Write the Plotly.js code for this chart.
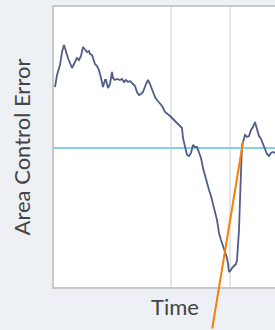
<!DOCTYPE html>
<html>
<head>
<meta charset="utf-8">
<script src="https://cdn.plot.ly/plotly-3.0.1.min.js"></script>
<style>
html,body{margin:0;padding:0;overflow:hidden;background:#edf1f5;}
#chart{width:310px;height:330px;}
</style>
</head>
<body>
<div id="chart"></div>
<script>
// Time steps (arbitrary units) and Area Control Error values
const timeSteps = [1,3,6,8,10,12,14,16,18,21,23,25,27,29,31,33,35,36,38,39,41,43,45,47,49,51,52,54,56,58,59,61,63,66,68,70,72,74,76,79,81,83,85,87,89,92,94,96,98,101,103,106,108,111,114,116,118,121,123,126,128,129,131,133,135,137,139,141,143,145,147,149,151,153,155,157,159,161,163,165,167,169,171,173,174,175,177,178,180,182,183,184,185,186,187,188,189,191,193,195,197,199,201,203,205,207,209,211,213,215,217,219,221,226,231,236,242];
const aceValues = [6.1,7.3,8.3,9.6,10.3,9.6,9.0,8.5,8.0,8.6,9.0,8.8,9.2,10.1,9.8,9.6,9.7,9.4,9.3,9.0,8.4,8.2,7.8,7.0,6.1,6.8,6.8,6.0,6.4,7.6,7.0,6.8,6.9,6.8,6.9,6.6,6.8,6.6,6.7,6.4,6.2,5.6,5.3,5.4,5.6,6.4,6.8,6.4,5.8,5.1,4.8,4.5,4.2,3.6,3.4,3.2,3.0,2.7,2.6,2.3,2.0,1.0,0.2,-0.7,-0.8,-0.5,0.3,0.1,0.1,-0.4,-1.0,-2.0,-2.8,-3.4,-4.2,-4.8,-5.5,-6.4,-7.2,-8.5,-9.2,-9.8,-10.4,-11.0,-11.6,-12.4,-12.2,-12.0,-11.8,-11.6,-11.2,-10.0,-8.2,-5.2,-1.7,0.3,0.6,1.3,1.1,1.2,1.8,2.1,2.6,2.0,1.2,0.9,0.4,0.0,-0.6,-0.8,-0.5,-0.4,-0.5,-0.2,-0.6,-0.3,-0.5];
const setpoint = 0;
const gridTimes = [117, 176];
const highlightStart = [158, -18.2];
const highlightEnd = [189, 0.6];

const traces = [{
  x: timeSteps, y: aceValues, type: 'scatter', mode: 'lines',
  line: {color: '#525d88', width: 1.8},
  hoverinfo: 'skip'
}];

const layout = {
  width: 310, height: 330,
  margin: {l: 54, r: 14, t: 7, b: 43},
  paper_bgcolor: '#edf1f5', plot_bgcolor: '#ffffff',
  showlegend: false,
  font: {family: 'Lato, sans-serif', color: '#444'},
  xaxis: {
    range: [0, 242], tickvals: gridTimes, showticklabels: false, ticks: '',
    showgrid: true, gridcolor: '#e4e6e8', gridwidth: 1.5, zeroline: false,
    showline: true, mirror: true, linecolor: '#c8c8c8', linewidth: 2,
    title: {text: 'Time', font: {size: 22, color: '#444'}, standoff: 12},
    fixedrange: true
  },
  yaxis: {
    range: [-13.9, 14.1], showticklabels: false, ticks: '', showgrid: false,
    zeroline: true, zerolinecolor: '#86d0e2', zerolinewidth: 2,
    showline: true, mirror: true, linecolor: '#c8c8c8', linewidth: 2,
    title: {text: 'Area Control Error', font: {size: 22, color: '#444'}, standoff: 15},
    fixedrange: true
  },
  annotations: [{
    x: highlightEnd[0], y: highlightEnd[1], xref: 'x', yref: 'y',
    ax: highlightStart[0], ay: highlightStart[1], axref: 'x', ayref: 'y',
    text: '', showarrow: true, arrowhead: 0, arrowwidth: 2, arrowcolor: '#f77f0a',
    standoff: 0, startstandoff: 0
  }]
};

Plotly.newPlot('chart', traces, layout, {displayModeBar: false, staticPlot: true});
</script>
</body>
</html>
